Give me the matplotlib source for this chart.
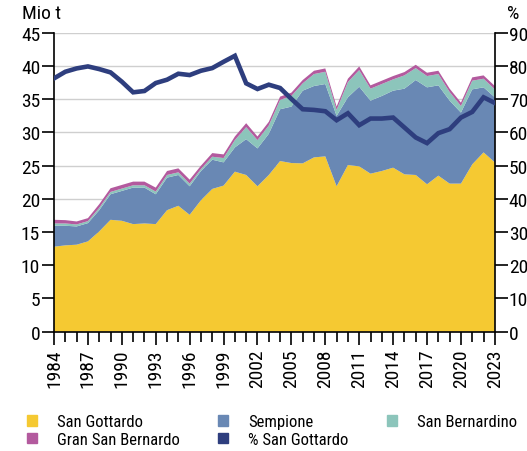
import matplotlib
matplotlib.use("Agg")
import matplotlib.pyplot as plt
from matplotlib.patches import Patch

plt.rcParams['font.family'] = ['Roboto Condensed', 'DejaVu Sans']

years = list(range(1984, 2024))

# Freight over the Alpine passes (million tonnes)
san_gottardo = [12.8, 13.0, 13.1, 13.6, 15.1, 16.85, 16.7, 16.2, 16.3, 16.2,
                18.3, 18.96, 17.6, 19.8, 21.5, 22.0, 24.1, 23.6, 21.9, 23.6,
                25.7, 25.4, 25.35, 26.25, 26.4, 21.9, 25.1, 24.9, 23.8, 24.2,
                24.7, 23.7, 23.6, 22.2, 23.5, 22.3, 22.3, 25.2, 27.0, 25.5]
sempione = [3.15, 2.95, 2.75, 2.75, 3.2, 3.85, 4.5, 5.5, 5.4, 4.5,
            4.9, 4.64, 4.3, 4.4, 4.4, 3.5, 3.65, 5.4, 5.7, 6.2,
            7.8, 8.5, 10.95, 10.75, 10.9, 10.6, 10.2, 12.0, 11.0, 11.3,
            11.6, 12.9, 14.3, 14.6, 13.6, 12.5, 10.7, 11.3, 9.8, 9.8]
san_bernardino = [0.35, 0.35, 0.3, 0.3, 0.35, 0.35, 0.35, 0.35, 0.35, 0.4,
                  0.4, 0.4, 0.4, 0.3, 0.45, 0.65, 1.1, 1.8, 1.25, 1.25,
                  1.4, 1.6, 1.1, 1.8, 1.85, 0.9, 2.3, 2.5, 1.8, 1.8,
                  1.7, 2.0, 1.8, 1.7, 1.7, 1.3, 1.0, 1.3, 1.3, 1.2]
gran_san_bernardo = [0.55, 0.5, 0.45, 0.45, 0.55, 0.55, 0.55, 0.55, 0.55, 0.6,
                     0.6, 0.6, 0.6, 0.5, 0.55, 0.55, 0.55, 0.6, 0.55, 0.55,
                     0.5, 0.5, 0.5, 0.5, 0.5, 0.5, 0.5, 0.55, 0.5, 0.5,
                     0.5, 0.5, 0.5, 0.5, 0.5, 0.5, 0.5, 0.5, 0.5, 0.5]
# Share of San Gottardo in the total (%)
pct_san_gottardo = [76.3, 78.3, 79.3, 79.9, 79.1, 78.1, 75.3, 72.1, 72.5, 74.9,
                    75.9, 77.7, 77.3, 78.6, 79.4, 81.3, 83.1, 74.8, 73.1, 74.4,
                    73.4, 70.1, 67.0, 66.8, 66.4, 63.7, 65.8, 62.2, 64.2, 64.2,
                    64.5, 61.5, 58.5, 56.8, 59.8, 61.0, 64.5, 66.2, 70.6, 68.9]

year_ticks = list(range(1984, 2024, 3))
left_ticks = list(range(0, 50, 5))
right_ticks = list(range(0, 100, 10))

c_sg = '#F5C932'
c_semp = '#6988B4'
c_sb = '#8CC5BB'
c_gsb = '#B35A9E'
c_line = '#2E3E7E'

FS = 14

fig = plt.figure(figsize=(5.27, 4.52), dpi=100)
ax = fig.add_axes([0.1025, 0.264, 0.8365, 0.661])

ax.stackplot(years, san_gottardo, sempione, san_bernardino, gran_san_bernardo,
             colors=[c_sg, c_semp, c_sb, c_gsb], linewidth=0, zorder=2)

ax.set_xlim(1984, 2023)
ax.set_ylim(0, 45)
ax.set_yticks(left_ticks)
ax.set_xticks(years, minor=True)
ax.set_xticks(year_ticks)
ax.set_xticklabels([str(y) for y in year_ticks], rotation=90)
ax.grid(axis='y', color='#CFCFCF', linewidth=1.0, zorder=0)
ax.set_axisbelow(True)

ax.spines['top'].set_visible(False)
ax.spines['right'].set_visible(False)
ax.spines['left'].set_linewidth(1.2)
ax.spines['bottom'].set_linewidth(1.2)
ax.tick_params(axis='y', direction='out', length=9, width=1.2, labelsize=FS, pad=1)
ax.tick_params(axis='x', which='major', direction='out', length=9, width=1.2,
               labelsize=FS, pad=3)
ax.tick_params(axis='x', which='minor', direction='out', length=7, width=1.2)

ax2 = ax.twinx()
ax2.plot(years, pct_san_gottardo, color=c_line, linewidth=3.3,
         solid_joinstyle='miter', zorder=5)
ax2.set_ylim(0, 90)
ax2.set_yticks(right_ticks)
for side in ['top', 'left', 'bottom']:
    ax2.spines[side].set_visible(False)
ax2.spines['right'].set_linewidth(1.2)
ax2.tick_params(axis='y', direction='out', length=9, width=1.2, labelsize=FS, pad=1)

fig.text(0.042, 0.968, 'Mio t', fontsize=FS, va='center', ha='left')
fig.text(0.973, 0.968, '%', fontsize=FS, va='center', ha='center')

handles = [Patch(color=c_sg), Patch(color=c_gsb), Patch(color=c_semp),
           Patch(color=c_line), Patch(color=c_sb)]
labels = ['San Gottardo', 'Gran San Bernardo', 'Sempione', '% San Gottardo',
          'San Bernardino']
fig.legend(handles, labels, ncol=3, loc='upper left',
           bbox_to_anchor=(0.051, 0.081), frameon=False, fontsize=12,
           handlelength=0.6, handleheight=0.6, handletextpad=1.2,
           columnspacing=2.3, labelspacing=0.15, borderpad=0, borderaxespad=0)

fig.savefig('out.png', dpi=100)
